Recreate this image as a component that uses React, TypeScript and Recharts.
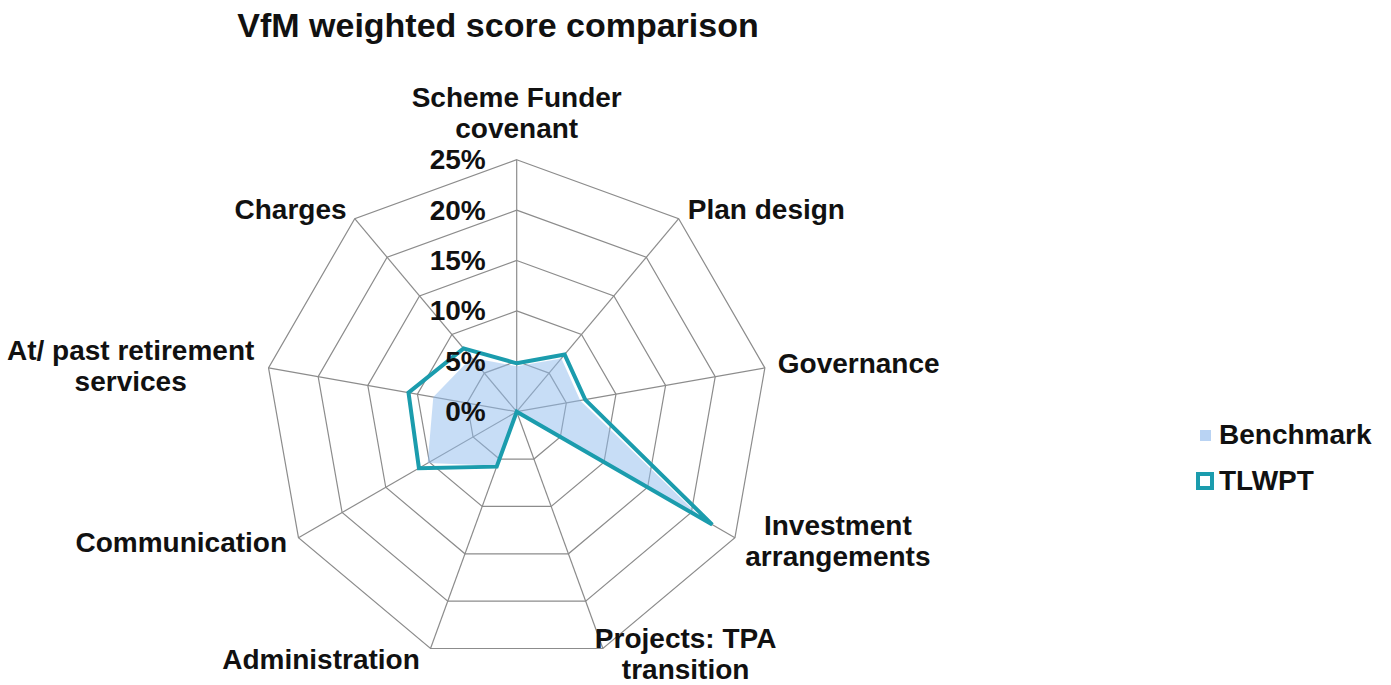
import { Legend, PolarAngleAxis, PolarGrid, PolarRadiusAxis, Radar, RadarChart } from "recharts";

const CATEGORIES = [
  "Scheme Funder\ncovenant",
  "Plan design",
  "Governance",
  "Investment\narrangements",
  "Projects: TPA\ntransition",
  "Administration",
  "Communication",
  "At/ past retirement\nservices",
  "Charges",
];
const BENCHMARK = [4.5, 6.9, 6.4, 21.3, 0, 5.7, 10.2, 8.4, 7.0];
const TLWPT = [4.8, 7.4, 6.9, 22.4, 0, 5.8, 11.2, 10.9, 8.2];
const RADIUS_TICKS = [0, 5, 10, 15, 20, 25];

const FONT = '"Liberation Sans", Arial, sans-serif';
const TEAL = "#1b9cad";
const LIGHT = "#8fbbee";

// per-label placement relative to the tick point Recharts gives
const LABEL_LAYOUT: { anchor: "start" | "middle" | "end"; dx: number; dy: number }[] = [
  { anchor: "middle", dx: 0, dy: -39 },
  { anchor: "start", dx: 4, dy: -3.5 },
  { anchor: "start", dx: 5, dy: -3.5 },
  { anchor: "middle", dx: 96, dy: -1 },
  { anchor: "middle", dx: 80, dy: -2 },
  { anchor: "end", dx: -8, dy: 3 },
  { anchor: "end", dx: -4.5, dy: 1 },
  { anchor: "middle", dx: -130, dy: -1 },
  { anchor: "end", dx: -3, dy: -3.5 },
];

const data = CATEGORIES.map((axis, i) => ({ axis, Benchmark: BENCHMARK[i], TLWPT: TLWPT[i] }));

function AngleTick(props: any) {
  const { x, y, payload } = props;
  const idx = CATEGORIES.indexOf(payload.value);
  const lay = LABEL_LAYOUT[idx] || { anchor: "middle", dx: 0, dy: 0 };
  const lines = String(payload.value).split("\n");
  const lh = 31;
  const top = y + lay.dy - ((lines.length - 1) * lh) / 2;
  return (
    <g>
      {lines.map((ln, i) => (
        <text
          key={i}
          x={x + lay.dx}
          y={top + i * lh}
          textAnchor={lay.anchor}
          dominantBaseline="central"
          fontFamily={FONT}
          fontWeight="bold"
          fontSize={28}
          fill="#111"
        >
          {ln}
        </text>
      ))}
    </g>
  );
}

function RadiusTick(props: any) {
  const { x, y, payload } = props;
  return (
    <text
      x={x - 31}
      y={y}
      textAnchor="end"
      dominantBaseline="central"
      fontFamily={FONT}
      fontWeight="bold"
      fontSize={28}
      fill="#111"
    >
      {payload.value}%
    </text>
  );
}

function LegendContent() {
  return (
    <div style={{ fontFamily: FONT, fontWeight: "bold", fontSize: 28, color: "#111" }}>
      <div style={{ display: "flex", alignItems: "center", height: 46 }}>
        <span style={{ display: "inline-block", width: 11, height: 11, background: "#b9d3f3", margin: "0 8px 0 4px" }} />
        Benchmark
      </div>
      <div style={{ display: "flex", alignItems: "center", height: 46 }}>
        <span
          style={{
            display: "inline-block",
            width: 10,
            height: 10,
            border: `4px solid ${TEAL}`,
            margin: "0 5px 0 0",
          }}
        />
        TLWPT
      </div>
    </div>
  );
}

export default function App() {
  return (
    <div style={{ position: "absolute", left: 0, top: 0, width: 1391, height: 685, background: "#fff" }}>
      <div
        style={{
          position: "absolute",
          left: 0,
          top: 7,
          width: 996,
          textAlign: "center",
          fontFamily: FONT,
          fontWeight: "bold",
          fontSize: 34,
          lineHeight: "36px",
          color: "#111",
        }}
      >
        VfM weighted score comparison
      </div>
      <RadarChart
        width={1391}
        height={685}
        cx={516.7}
        cy={411.7}
        outerRadius={252}
        startAngle={90}
        endAngle={-270}
        data={data}
        margin={{ top: 0, right: 0, bottom: 0, left: 0 }}
      >
        <PolarGrid gridType="polygon" stroke="#8c8c8c" strokeWidth={1.2} />
        <PolarAngleAxis dataKey="axis" tick={AngleTick} tickLine={false} axisLine={false} />
        <PolarRadiusAxis
          angle={90}
          domain={[0, 25]}
          ticks={RADIUS_TICKS as any}
          tickCount={6}
          tick={RadiusTick}
          axisLine={false}
          tickLine={false}
        />
        <Radar
          name="Benchmark"
          dataKey="Benchmark"
          stroke="none"
          fill={LIGHT}
          fillOpacity={0.5}
          isAnimationActive={false}
        />
        <Radar
          name="TLWPT"
          dataKey="TLWPT"
          stroke={TEAL}
          strokeWidth={4}
          fill="none"
          fillOpacity={0}
          isAnimationActive={false}
        />
        <Legend
          content={LegendContent}
          wrapperStyle={{ position: "absolute", left: 1196, top: 412, width: 190 }}
        />
      </RadarChart>
    </div>
  );
}
